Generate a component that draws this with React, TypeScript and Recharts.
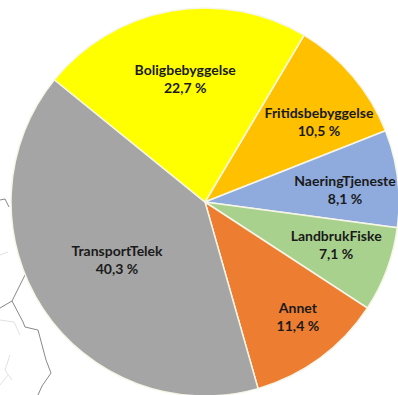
import { PieChart, Pie, Cell } from 'recharts';

const categories = ['Fritidsbebyggelse', 'NaeringTjeneste', 'LandbrukFiske', 'Annet', 'TransportTelek', 'Boligbebyggelse'];
const shares = [10.5, 8.1, 7.1, 11.4, 40.3, 22.7];
const colors = ['#FFC000', '#8FAADC', '#A9D18E', '#ED7D31', '#A5A5A5', '#FFFF00'];

const data = categories.map((name, i) => ({ name, value: shares[i] }));

// label radius and angle nudge per slice
const labelRadius = [139, 140.5, 138, 148.3, 105.4, 123.6];
const labelShift = [-5.5, -2.1, 2.2, 2.4, 0, -0.9];

const RAD = Math.PI / 180;

function renderLabel(props: any) {
  const { cx, cy, midAngle, index } = props;
  const a = (midAngle + labelShift[index]) * RAD;
  const x = cx + labelRadius[index] * Math.cos(a);
  const y = cy - labelRadius[index] * Math.sin(a);
  const text = shares[index].toFixed(1).replace('.', ',') + ' %';
  return (
    <text x={x} y={y} textAnchor="middle" fontFamily="Lato" fontWeight="bold" fontSize={14} fill="#1a1a1a">
      <tspan x={x} dy={-4.5}>{categories[index]}</tspan>
      <tspan x={x} dy={18}>{text}</tspan>
    </text>
  );
}

export default function App() {
  return (
    <div style={{ position: 'absolute', left: 0, top: 0, width: 398, height: 395, overflow: 'hidden', background: '#fff' }}>
      {/* map outline behind the pie */}
      <svg width={398} height={395} style={{ position: 'absolute', left: 0, top: 0 }}>
        <g fill="none" stroke="#6a6a6a" strokeWidth={0.8}>
          <path d="M0 200L5 199L9 207M26 273L12 301L0 308M12 301L23 322L25 327L38 330L42 345L46 360L51 373L42 386L38 395" />
        </g>
        <g fill="none" stroke="#d4d4d4" strokeWidth={0.7}>
          <path d="M0 255L8 252M0 320L14 322L20 335M10 355L5 370L12 380M0 385L8 375" />
        </g>
      </svg>
      <div style={{ position: 'absolute', left: 0, top: 0 }}>
        <PieChart width={398} height={395} margin={{ top: 0, right: 0, bottom: 0, left: 0 }}>
          <Pie
            data={data}
            dataKey="value"
            cx={205}
            cy={202}
            outerRadius={194}
            startAngle={59.3}
            endAngle={-300.7}
            stroke="#f6f6e8"
            strokeWidth={1.5}
            label={renderLabel}
            labelLine={false}
            isAnimationActive={false}
          >
            {data.map((d, i) => (
              <Cell key={d.name} fill={colors[i]} />
            ))}
          </Pie>
        </PieChart>
      </div>
    </div>
  );
}
